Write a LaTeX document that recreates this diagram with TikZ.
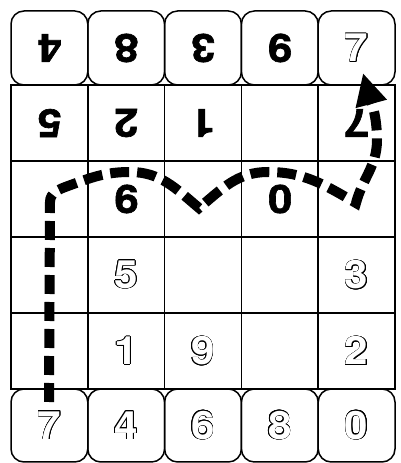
\documentclass[tikz,border=0pt]{standalone}
\usepackage{fontspec}
\usepackage[copies]{contour}
\usetikzlibrary{arrows.meta}
\newfontface\dgB{texgyreheros-bold.otf}[FakeStretch=1.12,FakeBold=1.6]
\newfontface\dgO{texgyreheros-bold.otf}[FakeStretch=1.08]
\newcommand\dgfont{\fontsize{39}{39}\selectfont}
\newcommand\rd[1]{\rotatebox[origin=c]{180}{\dgB #1}}
\contourlength{0.55pt}
\newcommand\od[1]{\contour{black}{\textcolor{white}{\dgO #1}}}
\tikzset{
  gridcell/.style={draw, line width=1.5pt, minimum width=76.8pt, minimum height=76pt, inner sep=0pt, font=\dgfont},
  rbox/.style={draw, line width=1.5pt, rounded corners=13pt, minimum width=76.8pt, inner sep=0pt, font=\dgfont},
  pathline/.style={line width=10pt, dash pattern=on 19pt off 8pt, -{Triangle[length=32pt,width=30pt]}}
}
\begin{document}
\begin{tikzpicture}[x=1pt,y=1pt]
\useasboundingbox (0,0) rectangle (400,463);
\fill[white] (0,0) rectangle (400,463);
% grid rows
\foreach \c/\txt in {1/\rd{5},2/\rd{2},3/\rd{1},4/{},5/\rd{7}}
  \node[gridcell] (ga\c) at ({11+76.8*(\c-0.5)},340) {\txt};
\foreach \c/\txt in {1/{},2/\rd{9},3/{},4/\rd{0},5/{}}
  \node[gridcell] (gb\c) at ({11+76.8*(\c-0.5)},264) {\txt};
\foreach \c/\txt in {1/{},2/\od{5},3/{},4/{},5/\od{3}}
  \node[gridcell] (gc\c) at ({11+76.8*(\c-0.5)},188) {\txt};
\foreach \c/\txt in {1/{},2/\od{1},3/\od{9},4/{},5/\od{2}}
  \node[gridcell] (gd\c) at ({11+76.8*(\c-0.5)},112) {\txt};
% top rounded boxes
\foreach \c/\txt in {1/\rd{4},2/\rd{8},3/\rd{3},4/\rd{9},5/\od{7}}
  \node[rbox, minimum height=74pt] (t\c) at ({11+76.8*(\c-0.5)},415) {\txt};
% bottom rounded boxes
\foreach \c/\txt in {1/\od{7},2/\od{4},3/\od{6},4/\od{8},5/\od{0}}
  \node[rbox, minimum height=73pt] (b\c) at ({11+76.8*(\c-0.5)},37.5) {\txt};
% dashed path
\coordinate (p0) at (49,61);
\coordinate (p1) at (50,261);
\coordinate (p2) at (68,277);
\coordinate (p3) at (130,291);
\coordinate (p4) at (199,255);
\coordinate (p5) at (268,291);
\coordinate (p6) at (356,260);
\coordinate (p7) at (377,323);
\coordinate (p8) at (363,390);
\draw[pathline] (p0) -- (p1) to[out=90,in=200] (p2) to[out=20,in=180] (p3)
  to[out=0,in=140] (p4) to[out=40,in=180] (p5) to[out=0,in=150] (p6)
  to[out=75,in=-90] (p7) to[out=90,in=-75] (p8);
\end{tikzpicture}
\end{document}
